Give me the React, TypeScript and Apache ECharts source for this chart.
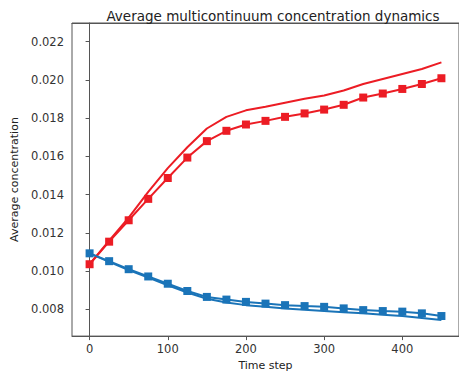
import React, { useEffect, useRef } from "react";
import * as echarts from "echarts";

const steps = [0, 25, 50, 75, 100, 125, 150, 175, 200, 225, 250, 275, 300, 325, 350, 375, 400, 425, 450];
const redMarked = [0.01036, 0.01154, 0.01266, 0.01378, 0.01487, 0.01594, 0.0168, 0.01734, 0.01767, 0.01786, 0.01807, 0.01825, 0.01845, 0.0187, 0.01908, 0.01929, 0.01953, 0.01979, 0.02009];
const redLine = [0.01036, 0.0116, 0.0128, 0.01415, 0.01539, 0.01648, 0.01746, 0.01807, 0.01841, 0.0186, 0.01881, 0.01902, 0.01919, 0.01945, 0.01979, 0.02005, 0.02031, 0.02057, 0.02092];
const blueMarked = [0.01093, 0.01052, 0.0101, 0.00972, 0.00934, 0.00896, 0.00865, 0.00851, 0.00839, 0.0083, 0.00822, 0.00817, 0.00813, 0.00805, 0.00796, 0.00791, 0.00788, 0.00779, 0.00765];
const blueLine = [0.01093, 0.01048, 0.01005, 0.00966, 0.00926, 0.00888, 0.00855, 0.00836, 0.00822, 0.00813, 0.00805, 0.00798, 0.00791, 0.00785, 0.00779, 0.00772, 0.00765, 0.00755, 0.00744];
const xTicks = [0, 100, 200, 300, 400];
const yTicks = [0.008, 0.01, 0.012, 0.014, 0.016, 0.018, 0.02, 0.022];

const RED = "#ec1c24";
const BLUE = "#1a74b8";
const AX = "#555";
const FONT = "DejaVu Sans";

const pairs = (ys: number[]) => steps.map((x, i) => [x, ys[i]]);

export default function App() {
  const ref = useRef<HTMLDivElement>(null);
  useEffect(() => {
    if (!ref.current) return;
    const chart = echarts.init(ref.current, undefined, { renderer: "svg" });
    const lineSeries = (name: string, data: number[], color: string, marked: boolean) => ({
      name,
      type: "line",
      data: pairs(data),
      showSymbol: marked,
      symbol: marked ? "rect" : "none",
      symbolSize: 8,
      itemStyle: { color },
      lineStyle: { color, width: 2 },
      z: marked ? 3 : 2,
    });
    chart.setOption({
      animation: false,
      title: {
        text: "Average multicontinuum concentration dynamics",
        left: 268,
        textAlign: "center",
        top: 4,
        textStyle: { fontFamily: FONT, fontSize: 13.5, fontWeight: "normal", color: "#222" },
      },
      grid: { left: 72, top: 23, right: -9, bottom: 37, show: true, borderColor: AX, borderWidth: 1, backgroundColor: "transparent" },
      xAxis: [
        {
          type: "value",
          min: -22.5,
          max: 472.5,
          name: "Time step",
          nameLocation: "middle",
          nameGap: 21,
          nameTextStyle: { fontFamily: FONT, fontSize: 11, color: "#222" },
          splitLine: { show: false },
          axisLine: { show: true, lineStyle: { color: AX, width: 1 } },
          axisTick: { show: true, customValues: xTicks, length: 4, lineStyle: { color: AX } },
          axisLabel: { customValues: xTicks, margin: 7, fontFamily: FONT, fontSize: 11.5, color: "#333" },
        },
        {
          type: "value",
          position: "top",
          min: -22.5,
          max: 472.5,
          splitLine: { show: false },
          axisLine: { show: true, lineStyle: { color: AX, width: 1 } },
          axisTick: { show: false },
          axisLabel: { show: false },
        },
      ],
      yAxis: {
        type: "value",
        min: 0.0066,
        max: 0.02298,
        name: "Average concentration",
        nameLocation: "middle",
        nameGap: 50,
        nameTextStyle: { fontFamily: FONT, fontSize: 11, color: "#222" },
        splitLine: { show: false },
        axisLine: { show: true, lineStyle: { color: AX, width: 1 } },
        axisTick: { show: true, customValues: yTicks, length: 4, lineStyle: { color: AX } },
        axisLabel: {
          customValues: yTicks,
          margin: 8,
          fontFamily: FONT,
          fontSize: 11.5,
          color: "#333",
          formatter: (v: number) => v.toFixed(3),
        },
      },
      series: [
        lineSeries("red line", redLine, RED, false),
        lineSeries("red marked", redMarked, RED, true),
        lineSeries("blue line", blueLine, BLUE, false),
        lineSeries("blue marked", blueMarked, BLUE, true),
      ],
    });
    return () => chart.dispose();
  }, []);
  return <div ref={ref} style={{ position: "fixed", left: 0, top: 0, width: 459, height: 376, background: "#fff" }} />;
}
